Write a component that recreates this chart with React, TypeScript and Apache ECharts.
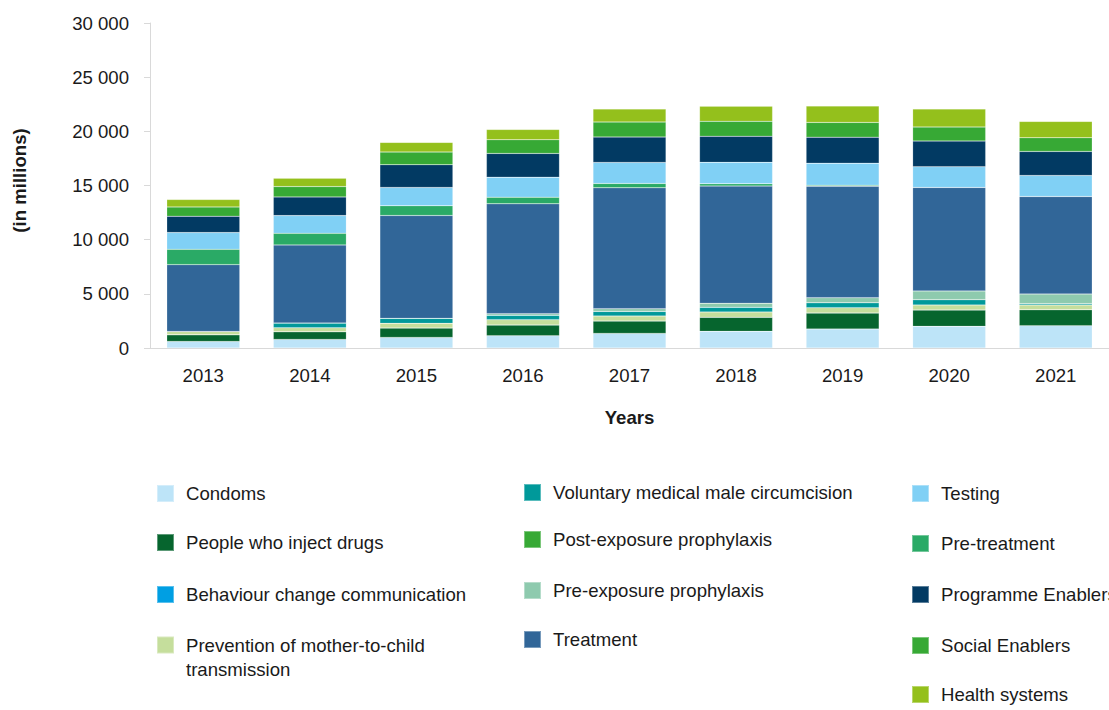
import React, { useEffect, useRef } from "react";
import * as echarts from "echarts";

const years = ["2013", "2014", "2015", "2016", "2017", "2018", "2019", "2020", "2021"];

const condoms = [600, 795, 980, 1135, 1350, 1535, 1755, 2000, 2060];
const peopleWhoInjectDrugs = [620, 710, 870, 990, 1145, 1295, 1480, 1515, 1480];
const behaviourChange = [0, 0, 0, 0, 0, 0, 0, 0, 0];
const pmtct = [305, 370, 425, 490, 460, 500, 490, 460, 435];
const vmmc = [0, 430, 460, 400, 425, 425, 460, 490, 120];
const pep = [0, 0, 0, 0, 0, 0, 0, 0, 0];
const prep = [0, 0, 0, 155, 250, 370, 460, 805, 895];
const treatment = [6170, 7210, 9495, 10140, 11160, 10820, 10290, 9550, 8995];
const preTreatment = [1415, 1070, 900, 610, 400, 220, 90, 0, 0];
const testing = [1545, 1635, 1690, 1850, 1940, 1970, 2035, 1915, 1940];
const programmeEnablers = [1505, 1730, 2100, 2190, 2340, 2405, 2405, 2365, 2220];
const socialEnablers = [860, 950, 1165, 1265, 1385, 1385, 1360, 1295, 1265];
const healthSystems = [685, 765, 895, 950, 1200, 1385, 1505, 1665, 1505];

const yTicks = [0, 5000, 10000, 15000, 20000, 25000, 30000];

const FONT = "'Liberation Sans', Arial, sans-serif";
const TEXT = "#1a1a1a";
const FS = 18.6;

type SeriesDef = { name: string; data: number[]; color: string; legend: [number, number] };

// stacking order (bottom to top); legend positions [left, iconCenterY]
const seriesDefs: SeriesDef[] = [
  { name: "Condoms", data: condoms, color: "#BDE4F8", legend: [156, 493] },
  { name: "People who inject drugs", data: peopleWhoInjectDrugs, color: "#06652E", legend: [156, 542] },
  { name: "Behaviour change communication", data: behaviourChange, color: "#009FE3", legend: [156, 594] },
  { name: "Prevention of mother-to-child transmission", data: pmtct, color: "#C5DE9C", legend: [156, 645] },
  { name: "Voluntary medical male circumcision", data: vmmc, color: "#00999A", legend: [523, 492] },
  { name: "Post-exposure prophylaxis", data: pep, color: "#37A935", legend: [523, 539] },
  { name: "Pre-exposure prophylaxis", data: prep, color: "#8ECAAE", legend: [523, 590] },
  { name: "Treatment", data: treatment, color: "#316698", legend: [523, 639] },
  { name: "Pre-treatment", data: preTreatment, color: "#2AAA66", legend: [911, 543] },
  { name: "Testing", data: testing, color: "#80D0F5", legend: [911, 493] },
  { name: "Programme Enablers", data: programmeEnablers, color: "#023A63", legend: [911, 594] },
  { name: "Social Enablers", data: socialEnablers, color: "#37A935", legend: [911, 645] },
  { name: "Health systems", data: healthSystems, color: "#94C01C", legend: [911, 694] },
];

export default function App() {
  const ref = useRef<HTMLDivElement>(null);

  useEffect(() => {
    document.body.style.margin = "0";
    if (!ref.current) return;
    const chart = echarts.init(ref.current, null, { renderer: "svg" });

    const legends = seriesDefs.map((s) => {
      const twoLine = s.name === "Prevention of mother-to-child transmission";
      return {
        data: [s.name],
        left: s.legend[0],
        top: twoLine ? s.legend[1] - 36 : s.legend[1] - 9,
        padding: 0,
        itemWidth: 17,
        itemHeight: 17,
        icon: "rect",
        selectedMode: false,
        formatter: twoLine ? () => " \nPrevention of mother-to-child\ntransmission" : undefined,
        textStyle: {
          fontFamily: FONT,
          fontSize: FS,
          color: TEXT,
          lineHeight: twoLine ? 24 : undefined,
          padding: [0, 0, 0, 7],
        },
      };
    });

    chart.setOption({
      animation: false,
      backgroundColor: "#ffffff",
      grid: { left: 150, right: -17, top: 23, bottom: 362, containLabel: false },
      legend: legends,
      xAxis: {
        type: "category",
        data: years,
        axisLine: { show: true, lineStyle: { color: "#d9d9d9", width: 1 } },
        axisTick: { show: false },
        axisLabel: { fontFamily: FONT, fontSize: FS, color: TEXT, margin: 18 },
        name: "Years",
        nameLocation: "middle",
        nameGap: 60,
        nameTextStyle: { fontFamily: FONT, fontSize: FS, fontWeight: "bold", color: TEXT },
      },
      yAxis: {
        type: "value",
        min: yTicks[0],
        max: yTicks[yTicks.length - 1],
        interval: 5000,
        splitLine: { show: false },
        axisLine: { show: true, lineStyle: { color: "#d9d9d9", width: 1 } },
        axisTick: { show: true, length: 6, lineStyle: { color: "#d9d9d9" } },
        axisLabel: {
          fontFamily: FONT,
          fontSize: FS,
          color: TEXT,
          margin: 21,
          formatter: (v: number) => String(v).replace(/\B(?=(\d{3})+(?!\d))/g, " "),
        },
        name: "(in millions)",
        nameLocation: "middle",
        nameGap: 121,
        nameTextStyle: { fontFamily: FONT, fontSize: FS, fontWeight: "bold", color: TEXT, padding: [0, 0, 0, 10] },
      },
      series: seriesDefs.map((s) => ({
        name: s.name,
        type: "bar",
        stack: "total",
        barWidth: 73,
        data: s.data,
        itemStyle: { color: s.color, borderColor: "rgba(255,255,255,0.35)", borderWidth: 0.5 },
        emphasis: { disabled: true },
      })),
    });

    return () => chart.dispose();
  }, []);

  return <div ref={ref} style={{ width: 1109, height: 710 }} />;
}
